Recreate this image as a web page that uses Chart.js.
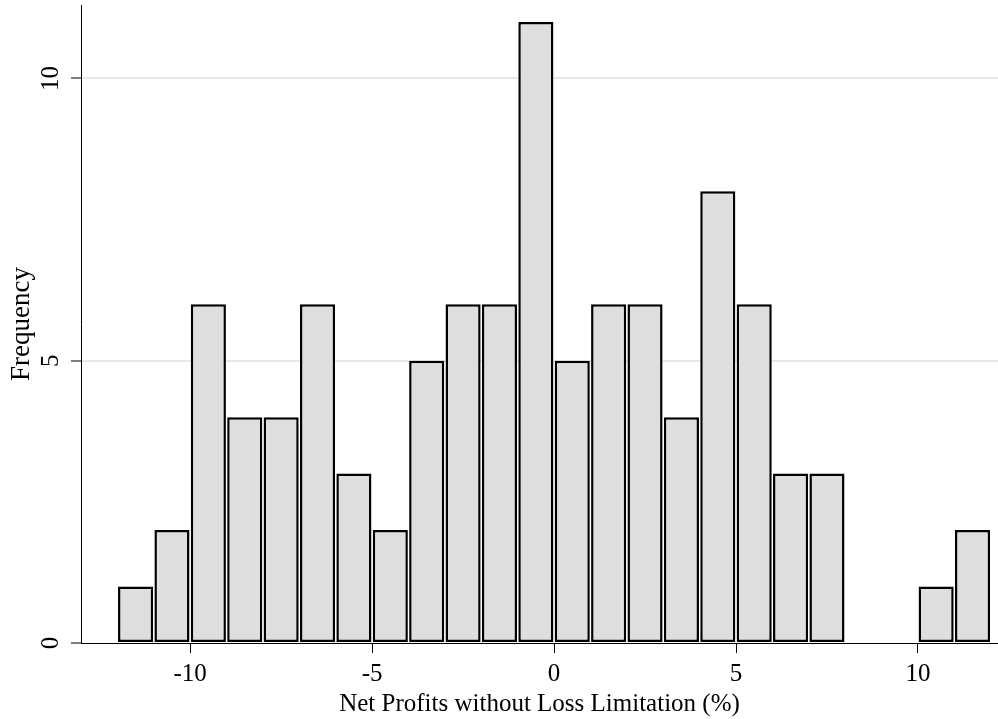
<!DOCTYPE html>
<html>
<head>
<meta charset="utf-8">
<script src="https://cdn.jsdelivr.net/npm/chart.js@4/dist/chart.umd.min.js"></script>
<style>
  body { margin: 0; background: #fff; }
  canvas { display: block; }
</style>
</head>
<body>
<canvas id="myChart" width="998" height="719"></canvas>
<script>
// histogram bins (left edge of each 1-unit bin) and their frequencies
const binStarts = [-12, -11, -10, -9, -8, -7, -6, -5, -4, -3, -2, -1, 0, 1, 2, 3, 4, 5, 6, 7, 8, 9, 10, 11];
const counts = [1, 2, 6, 4, 4, 6, 3, 2, 5, 6, 6, 11, 5, 6, 6, 4, 8, 6, 3, 3, 0, 0, 1, 2];
const binWidth = 1;

// tick labels
const xTicks = [-10, -5, 0, 5, 10];
const yTicks = [0, 5, 10];

const serif = "'Liberation Serif', 'Times New Roman', serif";

// bars centered in the middle of each bin
const points = binStarts.map((b, i) => ({ x: b + binWidth / 2, y: counts[i] }));

const data = {
  datasets: [{
    label: 'Frequency',
    data: points,
    backgroundColor: 'rgb(222, 222, 222)',
    borderColor: '#000',
    borderWidth: ctx => (ctx.raw && ctx.raw.y === 0 ? 0 : 2.5),
    borderSkipped: false,
    barPercentage: 0.965,
    categoryPercentage: 1,
    grouped: false
  }]
};

const config = {
  type: 'bar',
  data,
  options: {
    responsive: false,
    animation: false,
    events: [],
    layout: { padding: { top: 5, right: 0, left: 0, bottom: 0 } },
    plugins: {
      legend: { display: false },
      tooltip: { enabled: false }
    },
    scales: {
      x: {
        type: 'linear',
        offset: false,
        min: -13,
        max: 12.2,
        afterBuildTicks: scale => { scale.ticks = xTicks.map(v => ({ value: v })); },
        afterFit: scale => {
          scale.height = 76;
          scale.paddingLeft = 0;
          scale.paddingRight = 0;
        },
        grid: {
          offset: false,
          drawOnChartArea: false,
          drawTicks: true,
          tickLength: 10,
          tickColor: '#000',
          tickWidth: 1
        },
        border: { color: '#000', width: 1 },
        ticks: {
          font: { family: serif, size: 25 },
          color: '#000',
          padding: 6,
          maxRotation: 0,
          minRotation: 0
        },
        title: {
          display: true,
          text: 'Net Profits without Loss Limitation (%)',
          font: { family: serif, size: 25 },
          color: '#000',
          padding: { top: 0, bottom: 0 }
        }
      },
      y: {
        type: 'linear',
        min: 0,
        max: 11.3,
        afterBuildTicks: scale => { scale.ticks = yTicks.map(v => ({ value: v })); },
        afterFit: scale => {
          scale.width = 81;
          scale.paddingTop = 0;
          scale.paddingBottom = 0;
        },
        grid: {
          color: ctx => (ctx.tick && ctx.tick.value === 0 ? 'rgba(0,0,0,0)' : 'rgb(232, 232, 232)'),
          lineWidth: 2,
          drawTicks: true,
          tickLength: 10,
          tickColor: '#000',
          tickWidth: 1
        },
        border: { color: '#000', width: 1 },
        ticks: {
          font: { family: serif, size: 25 },
          color: '#000',
          padding: 7,
          minRotation: 90,
          maxRotation: 90,
          crossAlign: 'center'
        },
        title: {
          display: true,
          text: 'Frequency',
          font: { family: serif, size: 27 },
          color: '#000',
          padding: { top: 6, bottom: 0 }
        }
      }
    }
  }
};

const myChart = new Chart(document.getElementById('myChart'), config);
</script>
</body>
</html>
